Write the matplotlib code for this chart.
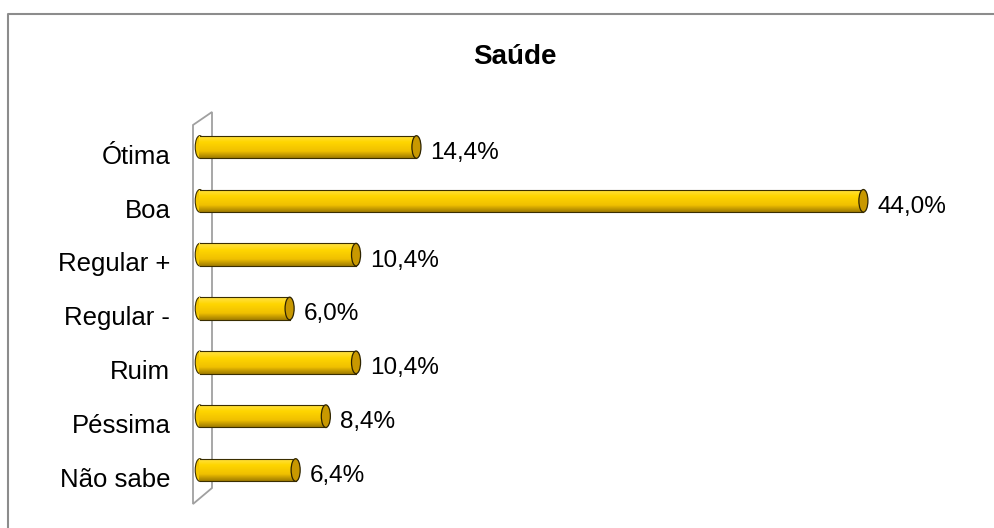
import matplotlib
matplotlib.use('Agg')
import matplotlib.pyplot as plt
import numpy as np
from matplotlib.patches import Ellipse, Polygon
from matplotlib.lines import Line2D

plt.rcParams['font.family'] = ['Liberation Sans', 'DejaVu Sans']

categorias = ['Ótima', 'Boa', 'Regular +', 'Regular -', 'Ruim', 'Péssima', 'Não sabe']
valores = [14.4, 44.0, 10.4, 6.0, 10.4, 8.4, 6.4]
rotulos = ['14,4%', '44,0%', '10,4%', '6,0%', '10,4%', '8,4%', '6,4%']

W, H = 995, 528
fig = plt.figure(figsize=(W / 100, H / 100), dpi=100)

def fx(px):
    return px / W

def fy(py):
    return 1 - py / H

# moldura externa (só topo e esquerda visíveis)
fig.add_artist(Line2D([fx(8), fx(8), 1.0], [0.0, fy(14), fy(14)],
                      transform=fig.transFigure, color='#8c8c8c', lw=1.5, zorder=-2))

# parede 3D (atrás das barras)
parede = Polygon([(fx(193), fy(125)), (fx(212), fy(112)), (fx(212), fy(488)), (fx(193), fy(504))],
                 closed=True, transform=fig.transFigure, facecolor='none',
                 edgecolor='#a0a0a0', lw=1.3, zorder=-1)
fig.add_artist(parede)

ax = fig.add_axes([fx(199), fy(505), fx(954) - fx(199), (505 - 112) / H])
ax.set_xlim(0, 50)
ax.set_ylim(6.65, -0.65)
ax.axis('off')
ax.patch.set_visible(False)

y = np.arange(len(categorias))
altura = 0.42
barras = ax.barh(y, valores, height=altura, color='#FFD200', edgecolor='none', zorder=2)

grad = np.linspace(0, 1, 64).reshape(-1, 1)
cmap = matplotlib.colors.LinearSegmentedColormap.from_list(
    'cil', [(0, '#FFE24A'), (0.3, '#FFD600'), (0.7, '#F0C000'), (1, '#A07C00')])

for b, v, yi, txt in zip(barras, valores, y, rotulos):
    im = ax.imshow(grad, aspect='auto', cmap=cmap, zorder=3,
                   extent=[-0.3, v, yi + altura / 2, yi - altura / 2])
    im.set_clip_path(b)
    # ponta arredondada à esquerda
    ax.add_patch(Ellipse((0.05, yi), 0.6, altura, facecolor='#F5C800', edgecolor='#3a2e00',
                         lw=0.8, zorder=2.5, clip_on=False))
    ax.plot([0.05, v], [yi - altura / 2, yi - altura / 2], color='#3a2e00', lw=0.8, zorder=4)
    ax.plot([0.05, v], [yi + altura / 2, yi + altura / 2], color='#3a2e00', lw=0.8, zorder=4)
    ax.add_patch(Ellipse((v, yi), 0.6, altura, facecolor='#C89800', edgecolor='#2e2400',
                         lw=0.9, zorder=5, clip_on=False))
    ax.annotate(txt, (v, yi + 0.22), xytext=(10, 0), textcoords='offset points',
                va='baseline', ha='left', fontsize=17.5, color='black')
    ax.text(-1.9, yi + 0.31, categorias[yi], ha='right', va='baseline', fontsize=18.5, color='black')

fig.text(fx(515), fy(57), 'Saúde', ha='center', va='center', fontsize=20, fontweight='bold')

fig.savefig('out.png', dpi=100, facecolor='white')
